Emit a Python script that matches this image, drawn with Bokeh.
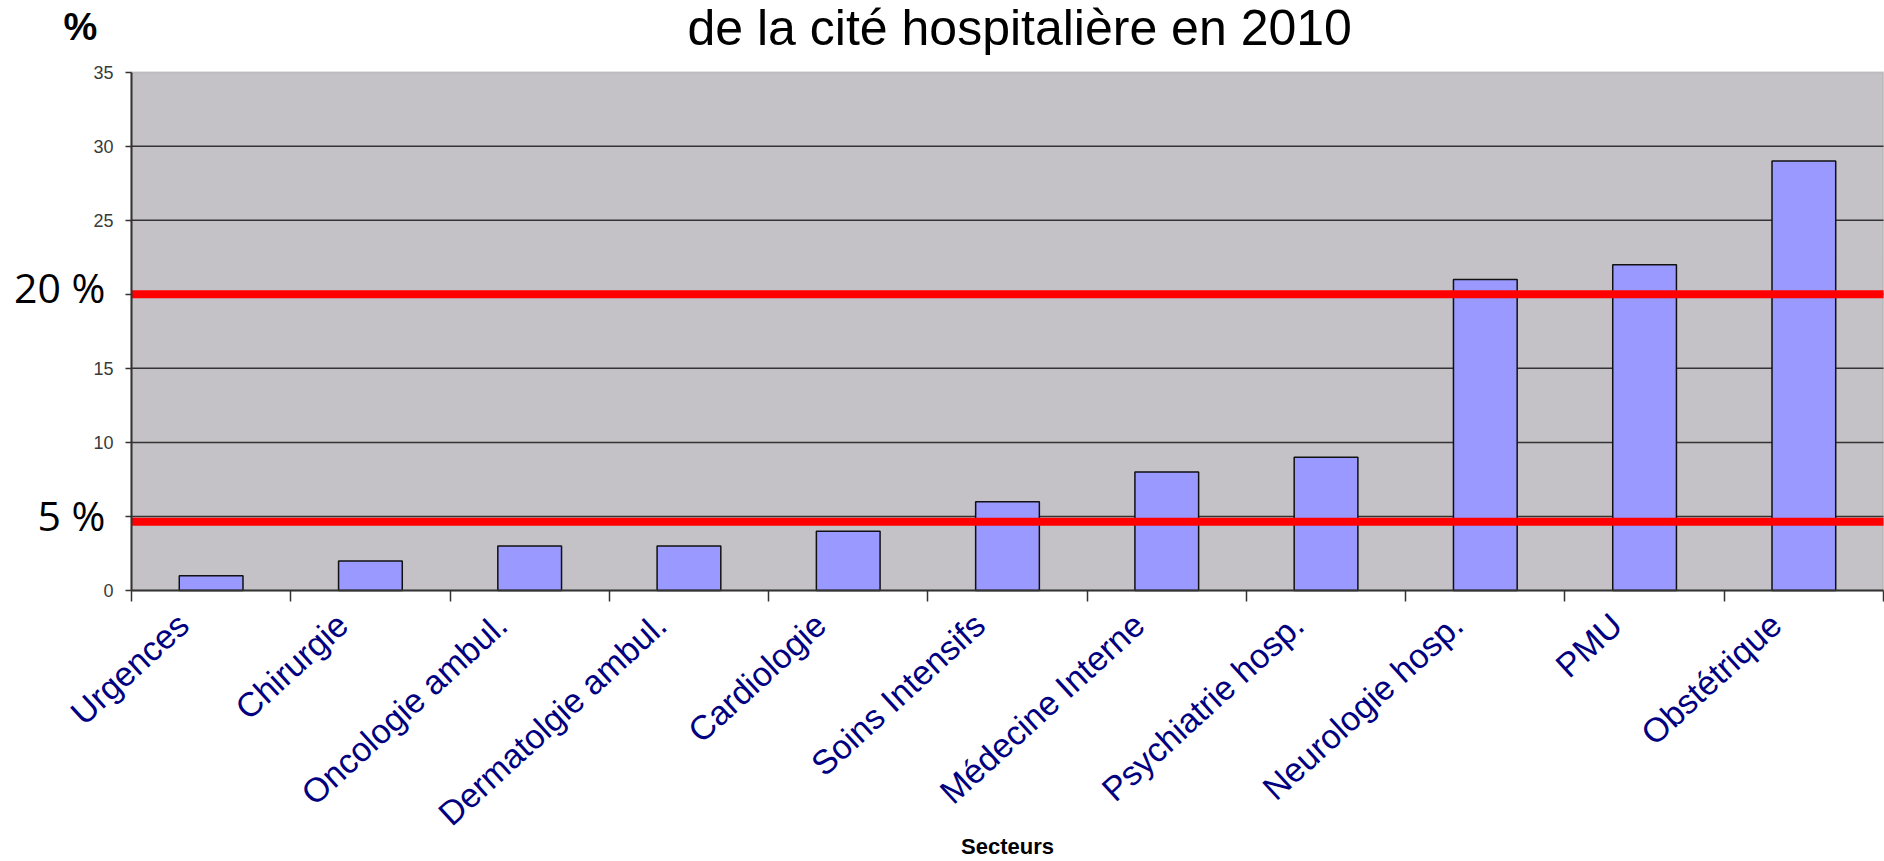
from math import pi
from bokeh.plotting import figure
from bokeh.models import (ColumnDataSource, Range1d, FixedTicker, LinearAxis,
                          BoxAnnotation)
from bokeh.core.properties import value
from bokeh.embed import file_html
from bokeh.resources import INLINE

# ---- data ----
categories = ["Urgences", "Chirurgie", "Oncologie ambul.", "Dermatolgie ambul.",
              "Cardiologie", "Soins Intensifs", "Médecine Interne",
              "Psychiatrie hosp.", "Neurologie hosp.", "PMU", "Obstétrique"]
values = [1, 2, 3, 3, 4, 6, 8, 9, 21, 22, 29]
y_ticks = [0, 5, 10, 15, 20, 25, 30, 35]
threshold_levels = [20, 4.65]
threshold_labels = ["20 %", "5 %"]
hidden_tick_labels = [20, 5]          # covered by the threshold labels
title_text = "de la cité hospitalière en 2010"
unit_text = "%"
x_title = "Secteurs"

# ---- layout: the frame covers the whole canvas, the plotting area is 0..n x 0..35
n = len(categories)
view_x = (-0.8225, 11.0063)
view_y = (-18.301, 39.842)
label_angle = 42.5 * pi / 180

bar_x = [i + 0.5 for i in range(n)]
src = ColumnDataSource(dict(x=bar_x, val=values, cat=categories))

p = figure(x_range=Range1d(*view_x), y_range=Range1d(*view_y),
           width=1884, height=861, output_backend="svg", toolbar_location=None,
           x_axis_type=None, title=None,
           min_border_left=0, min_border_right=0, min_border_top=0,
           min_border_bottom=0)
p.background_fill_color = "white"
p.border_fill_color = "white"
p.outline_line_color = None
p.xgrid.visible = False
p.ygrid.visible = False

# grey plotting area
p.add_layout(BoxAnnotation(left=0, right=n, bottom=y_ticks[0], top=y_ticks[-1],
                           level="image", fill_color="#c4c2c6", fill_alpha=1,
                           line_color="#8a8a8a", line_width=2))

# horizontal grid lines inside the plotting area
grid_vals = y_ticks[1:-1]
p.segment(x0=[0] * len(grid_vals), x1=[n] * len(grid_vals), y0=grid_vals,
          y1=grid_vals, line_color="#333333", line_width=1.5)

# bars
p.vbar(x="x", top="val", width=0.4, source=src, fill_color="#9999ff",
       line_color="#111111", line_width=1.5)

# threshold lines
p.segment(x0=[0] * len(threshold_levels), x1=[n] * len(threshold_levels),
          y0=threshold_levels, y1=threshold_levels, line_color="#ff0000",
          line_width=8)

# y axis at x = 0
ya = p.yaxis[0]
ya.fixed_location = 0
ya.ticker = FixedTicker(ticks=y_ticks)
ya.bounds = (y_ticks[0], y_ticks[-1])
overrides = {}
for t in hidden_tick_labels:
    overrides[t] = ""
    overrides[str(t)] = ""
ya.major_label_overrides = overrides
ya.major_tick_out = 6
ya.major_tick_in = 0
ya.minor_tick_line_color = None
ya.axis_line_color = "#333333"
ya.axis_line_width = 2
ya.major_tick_line_color = "#333333"
ya.major_tick_line_width = 1.5
ya.major_label_text_font = "Liberation Sans"
ya.major_label_text_font_size = "18px"
ya.major_label_text_color = "#3a3a3a"
ya.major_label_standoff = 12

# x axis at y = 0 with ticks at category boundaries
xa = LinearAxis(ticker=FixedTicker(ticks=list(range(n + 1))), fixed_location=0,
                bounds=(0, n))
xa.major_tick_out = 11
xa.major_tick_in = 0
xa.minor_tick_line_color = None
xa.axis_line_color = "#333333"
xa.axis_line_width = 2
xa.major_tick_line_color = "#333333"
xa.major_tick_line_width = 1.5
xa.major_label_text_alpha = 0
xa.major_label_text_font_size = "1px"
p.add_layout(xa, "below")

# category labels
p.text(x="x", y=0, text="cat", source=src, angle=label_angle,
       text_align="right", text_baseline="middle", x_offset=-28, y_offset=29,
       text_font=value("Liberation Sans"), text_font_size=value("34px"),
       text_color="#000080")

# threshold labels
p.text(x=[0] * len(threshold_levels), y=threshold_levels, text=threshold_labels,
       text_align="right", text_baseline="alphabetic", x_offset=-26, y_offset=-7,
       text_font=value("Open Sans"), text_font_size=value("41px"),
       text_color="black")

# unit, title and axis title
p.text(x=[0], y=[y_ticks[-1]], text=[unit_text], text_align="left",
       text_baseline="alphabetic", x_offset=-68, y_offset=-45,
       text_font=value("Liberation Sans"), text_font_size=value("38px"),
       text_font_style="bold", text_color="black")
p.text(x=[0], y=[y_ticks[-1]], text=[title_text], text_align="left",
       text_baseline="alphabetic", x_offset=556, y_offset=-44,
       text_font=value("Liberation Sans"), text_font_size=value("50px"),
       text_color="black")
p.text(x=[n / 2], y=[0], text=[x_title], text_align="center",
       text_baseline="alphabetic", y_offset=256,
       text_font=value("Liberation Sans"), text_font_size=value("22px"),
       text_font_style="bold", text_color="black")

open("out.html", "w").write(file_html(p, INLINE))
